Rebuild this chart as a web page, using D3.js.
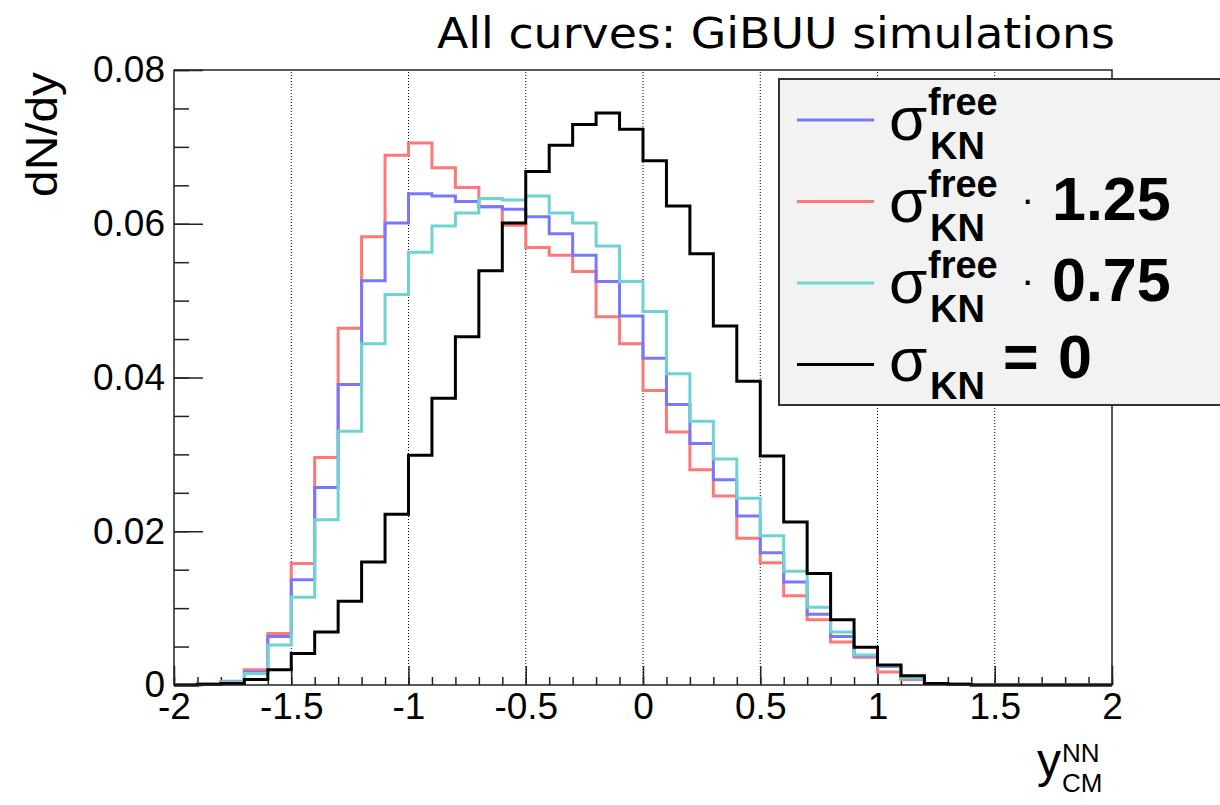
<!DOCTYPE html>
<html>
<head>
  <meta http-equiv="Content-Type" content="text/html;charset=utf-8">
  <title>GiBUU dN/dy</title>
  <script src="https://d3js.org/d3.v7.min.js"></script>
  <style type="text/css">
    body { margin: 0; background: #fff; }
    text { font-family: "Liberation Sans", Arial, sans-serif; fill: #000; }
    .axis text { font-size: 37px; }
    .axis line { stroke: #222; stroke-width: 1.5px; }
    .grid line { stroke: #000; stroke-width: 1px; stroke-dasharray: 1,2; }
    .hist { fill: none; stroke-width: 3px; }
  </style>
</head>
<body>
  <svg width="1220" height="805"></svg>
  <script type="text/javascript">
    // bin edges (41 edges -> 40 bins of width 0.1)
    const binEdges = [-2.0, -1.9, -1.8, -1.7, -1.6, -1.5, -1.4, -1.3, -1.2, -1.1,
      -1.0, -0.9, -0.8, -0.7, -0.6, -0.5, -0.4, -0.3, -0.2, -0.1,
      0.0, 0.1, 0.2, 0.3, 0.4, 0.5, 0.6, 0.7, 0.8, 0.9,
      1.0, 1.1, 1.2, 1.3, 1.4, 1.5, 1.6, 1.7, 1.8, 1.9, 2.0];

    const sigmaFree = [0, 0.0001, 0.0004, 0.0017, 0.0063, 0.0137, 0.0257, 0.0391, 0.0526, 0.0601,
      0.0639, 0.0636, 0.0629, 0.0622, 0.0619, 0.0609, 0.0587, 0.0559, 0.0525, 0.0480,
      0.0425, 0.0365, 0.0314, 0.0267, 0.0220, 0.0172, 0.0134, 0.0092, 0.0063, 0.0038,
      0.0024, 0.0009, 0.0002, 0.0001, 0, 0, 0, 0, 0, 0];

    const sigma125 = [0, 0.0001, 0.0005, 0.0020, 0.0067, 0.0158, 0.0296, 0.0464, 0.0583, 0.0689,
      0.0705, 0.0673, 0.0647, 0.0622, 0.0598, 0.0569, 0.0559, 0.0538, 0.0479, 0.0444,
      0.0383, 0.0329, 0.0280, 0.0246, 0.0191, 0.0159, 0.0116, 0.0085, 0.0056, 0.0036,
      0.0017, 0.0007, 0.0002, 0.0001, 0, 0, 0, 0, 0, 0];

    const sigma075 = [0, 0.0001, 0.0004, 0.0015, 0.0052, 0.0114, 0.0215, 0.0330, 0.0444, 0.0508,
      0.0563, 0.0597, 0.0614, 0.0633, 0.0631, 0.0636, 0.0614, 0.0601, 0.0571, 0.0525,
      0.0486, 0.0405, 0.0343, 0.0294, 0.0243, 0.0194, 0.0148, 0.0101, 0.0069, 0.0039,
      0.0025, 0.0009, 0.0002, 0.0001, 0, 0, 0, 0, 0, 0];

    const sigmaZero = [0, 0.0001, 0.0002, 0.0007, 0.0020, 0.0041, 0.0069, 0.0109, 0.0160, 0.0222,
      0.0299, 0.0373, 0.0453, 0.0539, 0.0601, 0.0668, 0.0702, 0.0729, 0.0744, 0.0723,
      0.0682, 0.0623, 0.0561, 0.0467, 0.0395, 0.0298, 0.0212, 0.0145, 0.0085, 0.0049,
      0.0026, 0.0012, 0.0002, 0.0001, 0, 0, 0, 0, 0, 0];

    const xTicks = [-2, -1.5, -1, -0.5, 0, 0.5, 1, 1.5, 2];
    const xTickLabels = ['-2', '-1.5', '-1', '-0.5', '0', '0.5', '1', '1.5', '2'];
    const yTicks = [0, 0.02, 0.04, 0.06, 0.08];
    const yTickLabels = ['0', '0.02', '0.04', '0.06', '0.08'];

    const series = [
      { name: 'x1.25', values: sigma125, color: '#ff7878' },
      { name: 'free', values: sigmaFree, color: '#7878ff' },
      { name: 'x0.75', values: sigma075, color: '#6dd3d3' },
      { name: 'zero', values: sigmaZero, color: '#000000' }
    ];

    const svg = d3.select('svg');
    const x = d3.scaleLinear().domain([-2, 2]).range([174, 1112]);
    const y = d3.scaleLinear().domain([0, 0.08]).range([685, 70]);

    svg.append('rect').attr('width', 1220).attr('height', 805).attr('fill', '#fff');

    // dotted vertical grid at major x ticks
    svg.append('g').attr('class', 'grid')
      .selectAll('line')
      .data(xTicks.slice(1, -1))
      .enter().append('line')
        .attr('x1', d => x(d)).attr('x2', d => x(d))
        .attr('y1', y(0)).attr('y2', y(0.08));

    // minor ticks
    svg.append('g').attr('class', 'axis')
      .attr('transform', `translate(0,${y(0)})`)
      .call(d3.axisBottom(x).tickValues(binEdges).tickSize(-8).tickSizeOuter(0).tickFormat(''))
      .call(g => g.select('.domain').remove());
    svg.append('g').attr('class', 'axis')
      .attr('transform', `translate(${x(-2)},0)`)
      .call(d3.axisLeft(y).ticks(16).tickSize(-15).tickSizeOuter(0).tickFormat(''))
      .call(g => g.select('.domain').remove());

    // major ticks + labels
    svg.append('g').attr('class', 'axis')
      .attr('transform', `translate(0,${y(0)})`)
      .call(d3.axisBottom(x).tickValues(xTicks).tickSize(-19).tickSizeOuter(0).tickPadding(8)
        .tickFormat((d, i) => xTickLabels[i]))
      .call(g => g.select('.domain').remove())
      .selectAll('text').attr('font-size', 38);
    svg.append('g').attr('class', 'axis')
      .attr('transform', `translate(${x(-2)},0)`)
      .call(d3.axisLeft(y).tickValues(yTicks).tickSize(-29).tickSizeOuter(0).tickPadding(9)
        .tickFormat((d, i) => yTickLabels[i]))
      .call(g => g.select('.domain').remove());

    // histograms as step lines
    const step = d3.line()
      .x(d => x(d[0]))
      .y(d => y(d[1]))
      .curve(d3.curveStepAfter);

    svg.append('g').selectAll('path')
      .data(series)
      .enter().append('path')
        .attr('class', 'hist')
        .attr('stroke', s => s.color)
        .attr('d', s => step(binEdges.map((e, i) => [e, i < s.values.length ? s.values[i] : s.values[s.values.length - 1]])));

    // frame
    svg.append('rect')
      .attr('x', x(-2)).attr('y', y(0.08))
      .attr('width', x(2) - x(-2)).attr('height', y(0) - y(0.08))
      .attr('fill', 'none').attr('stroke', '#222').attr('stroke-width', 1.5);

    // title
    svg.append('text')
      .attr('x', 437).attr('y', 48)
      .attr('textLength', 678).attr('lengthAdjust', 'spacingAndGlyphs')
      .style('font-family', '"DejaVu Sans", sans-serif')
      .attr('font-size', 43)
      .text('All curves: GiBUU simulations');

    // axis titles
    svg.append('text')
      .attr('transform', 'translate(57,72) rotate(-90)')
      .attr('text-anchor', 'end')
      .attr('font-size', 44)
      .attr('textLength', 125).attr('lengthAdjust', 'spacingAndGlyphs')
      .text('dN/dy');

    svg.append('text').attr('x', 1037).attr('y', 777).attr('font-size', 48).text('y');
    svg.append('text').attr('x', 1062).attr('y', 762).attr('font-size', 26).text('NN');
    svg.append('text').attr('x', 1062).attr('y', 792).attr('font-size', 26).text('CM');

    // legend
    const leg = svg.append('g');
    leg.append('rect')
      .attr('x', 779).attr('y', 79).attr('width', 520).attr('height', 326)
      .attr('fill', '#f2f2f2').attr('stroke', '#333').attr('stroke-width', 2);

    const legendOrder = [sigmaFree, sigma125, sigma075, sigmaZero];
    const legendColors = ['#7878ff', '#ff7878', '#6dd3d3', '#000000'];
    const legendFactor = ['', '1.25', '0.75', ''];
    const rowGap = 81.5;

    legendOrder.forEach((vals, k) => {
      const cy = 120 + rowGap * k;
      leg.append('line')
        .attr('x1', 797).attr('x2', 874).attr('y1', cy).attr('y2', cy)
        .attr('stroke', legendColors[k]).attr('stroke-width', 3);
      if (k < 3) {
        leg.append('text').attr('x', 889).attr('y', cy + 20).attr('font-size', 62).text('σ');
        leg.append('text').attr('x', 928).attr('y', cy - 5).attr('font-size', 38)
          .attr('font-weight', 'bold').text('free');
        leg.append('text').attr('x', 930).attr('y', cy + 39).attr('font-size', 38)
          .attr('font-weight', 'bold').text('KN');
        if (legendFactor[k]) {
          leg.append('text').attr('x', 1021).attr('y', cy + 11).attr('font-size', 40).text('·');
          leg.append('text').attr('x', 1052).attr('y', cy + 18).attr('font-size', 61)
            .attr('font-weight', 'bold').text(legendFactor[k]);
        }
      } else {
        leg.append('text').attr('x', 889).attr('y', cy + 16).attr('font-size', 62).text('σ');
        leg.append('text').attr('x', 930).attr('y', cy + 34).attr('font-size', 38)
          .attr('font-weight', 'bold').text('KN');
        leg.append('text').attr('x', 1003).attr('y', cy + 13).attr('font-size', 61)
          .attr('font-weight', 'bold').text('=');
        leg.append('text').attr('x', 1058).attr('y', cy + 13).attr('font-size', 61)
          .attr('font-weight', 'bold').text('0');
      }
    });
  </script>
</body>
</html>
